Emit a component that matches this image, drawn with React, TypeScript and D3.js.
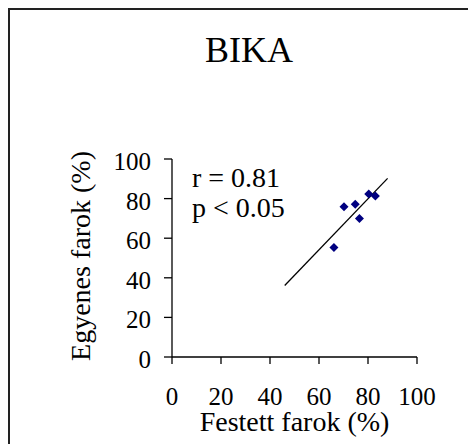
import React from "react";
import * as d3 from "d3";

// Stained tail (%) vs straight tail (%) per sample
const festett = [66.1, 70.2, 74.8, 76.5, 80.3, 83.0];
const egyenes = [55.3, 75.9, 77.2, 70.0, 82.3, 81.3];

const xTicks = [0, 20, 40, 60, 80, 100];
const yTicks = [0, 20, 40, 60, 80, 100];

// x-range over which the fitted trend line is drawn
const fitExtent = [46, 88];

const title = "BIKA";
const xTitle = "Festett farok (%)";
const yTitle = "Egyenes farok (%)";
const statLines = ["r = 0.81", "p < 0.05"];

const FONT = '"Liberation Serif", "Times New Roman", serif';

function linearFit(xs: number[], ys: number[]) {
  const mx = d3.mean(xs)!;
  const my = d3.mean(ys)!;
  let sxy = 0;
  let sxx = 0;
  xs.forEach((x, i) => {
    sxy += (x - mx) * (ys[i] - my);
    sxx += (x - mx) * (x - mx);
  });
  const slope = sxy / sxx;
  return (x: number) => my + slope * (x - mx);
}

export default function App() {
  const x = d3.scaleLinear().domain([0, 100]).range([172, 417]);
  const y = d3.scaleLinear().domain([0, 100]).range([357, 159]);
  const fit = linearFit(festett, egyenes);
  const line = d3
    .line<number>()
    .x((d) => x(d))
    .y((d) => y(fit(d)));
  const diamond = d3.symbol(d3.symbolDiamond2, 52)()!;

  return (
    <svg
      width={468}
      height={444}
      style={{ position: "absolute", left: 0, top: 0, background: "#fff" }}
      fontFamily={FONT}
    >
      <rect x={9} y={9} width={520} height={520} fill="#fff" stroke="#222" strokeWidth={2} />

      <text x={249} y={62} fontSize={36} textAnchor="middle" fill="#000">
        {title}
      </text>

      {/* axes */}
      <line x1={x(0)} x2={x(100)} y1={y(0)} y2={y(0)} stroke="#000" strokeWidth={1.3} />
      <line x1={x(0)} x2={x(0)} y1={y(0)} y2={y(100)} stroke="#000" strokeWidth={1.3} />
      {xTicks.map((t) => (
        <g key={"x" + t}>
          <line x1={x(t)} x2={x(t)} y1={y(0)} y2={y(0) + 7} stroke="#000" strokeWidth={1.3} />
          <text x={x(t)} y={405} fontSize={25} textAnchor="middle" fill="#000">
            {t}
          </text>
        </g>
      ))}
      {yTicks.map((t) => (
        <g key={"y" + t}>
          <line x1={x(0) - 8} x2={x(0)} y1={y(t)} y2={y(t)} stroke="#000" strokeWidth={1.3} />
          <text x={151} y={y(t) + 11} fontSize={25} textAnchor="end" fill="#000">
            {t}
          </text>
        </g>
      ))}

      <text x={294.5} y={431} fontSize={28} textAnchor="middle" fill="#000">
        {xTitle}
      </text>
      <text
        transform="translate(90,256) rotate(-90)"
        fontSize={28}
        textAnchor="middle"
        fill="#000"
      >
        {yTitle}
      </text>

      {/* trend line */}
      <path d={line(fitExtent) || ""} fill="none" stroke="#000" strokeWidth={1.3} />

      {/* points */}
      {festett.map((fx, i) => (
        <path
          key={i}
          d={diamond}
          transform={`translate(${x(fx)},${y(egyenes[i])})`}
          fill="#000080"
        />
      ))}

      {statLines.map((s, i) => (
        <text key={s} x={192} y={187 + i * 30} fontSize={28} fill="#000">
          {s}
        </text>
      ))}
    </svg>
  );
}
